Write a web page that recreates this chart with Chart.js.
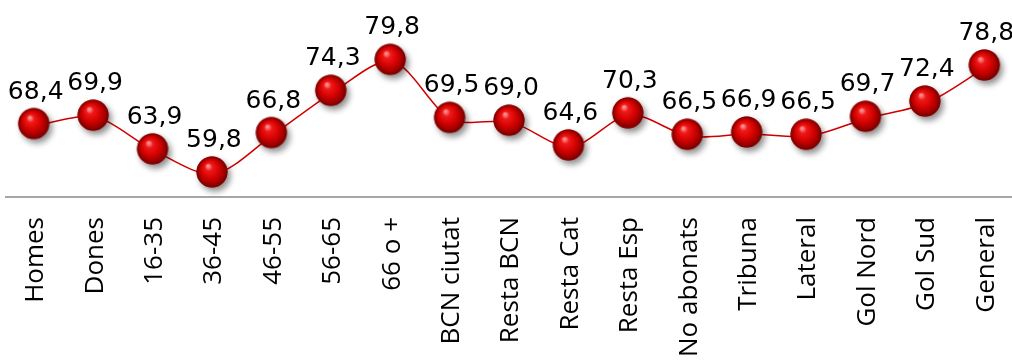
<!DOCTYPE html>
<html>
<head>
<meta charset="utf-8">
<script src="https://cdn.jsdelivr.net/npm/chart.js@4.4.1/dist/chart.umd.min.js"></script>
<style>
  html, body { margin: 0; padding: 0; background: #fff; overflow: hidden; }
  #wrap { position: relative; width: 1016px; height: 364px; }
</style>
</head>
<body>
<div id="wrap"><canvas id="chart"></canvas></div>
<script>
// categories and values
const categories = ['Homes', 'Dones', '16-35', '36-45', '46-55', '56-65', '66 o +', 'BCN ciutat',
    'Resta BCN', 'Resta Cat', 'Resta Esp', 'No abonats', 'Tribuna', 'Lateral', 'Gol Nord', 'Gol Sud', 'General'];
const values = [68.4, 69.9, 63.9, 59.8, 66.8, 74.3, 79.8, 69.5, 69.0, 64.6, 70.3, 66.5, 66.9, 66.5, 69.7, 72.4, 78.8];

// build a shaded red ball (with a soft shadow) to use as the point style
function makeBall() {
    const c = document.createElement('canvas');
    c.width = 48; c.height = 48;
    const ctx = c.getContext('2d');
    const cx = 22, cy = 22, r = 15.5;
    ctx.save();
    ctx.shadowColor = 'rgba(0,0,0,0.45)';
    ctx.shadowBlur = 6;
    ctx.shadowOffsetX = 3;
    ctx.shadowOffsetY = 4;
    ctx.beginPath();
    ctx.arc(cx, cy, r, 0, Math.PI * 2);
    ctx.fillStyle = '#b00000';
    ctx.fill();
    ctx.restore();
    const g = ctx.createRadialGradient(cx - 4, cy - 6, 1, cx, cy, r);
    g.addColorStop(0, '#ff9090');
    g.addColorStop(0.2, '#f01818');
    g.addColorStop(0.6, '#d00000');
    g.addColorStop(1, '#760000');
    ctx.beginPath();
    ctx.arc(cx, cy, r, 0, Math.PI * 2);
    ctx.fillStyle = g;
    ctx.fill();
    return c;
}

// write value above each point, with a decimal comma
const valueLabels = {
    id: 'valueLabels',
    afterDatasetsDraw(chart) {
        const ctx = chart.ctx;
        const meta = chart.getDatasetMeta(0);
        ctx.save();
        ctx.font = '25px "DejaVu Sans"';
        ctx.fillStyle = '#000';
        ctx.textAlign = 'center';
        ctx.textBaseline = 'bottom';
        meta.data.forEach(function (pt, i) {
            ctx.fillText(values[i].toFixed(1).replace('.', ','), pt.x, pt.y - 21);
        });
        ctx.restore();
    }
};

const ball = makeBall();

new Chart(document.getElementById('chart'), {
    type: 'line',
    data: {
        labels: categories,
        datasets: [{
            data: values,
            borderColor: '#d00000',
            borderWidth: 1.5,
            tension: 0.3,
            pointStyle: ball,
            pointRadius: 15,
            clip: false
        }]
    },
    options: {
        responsive: true,
        maintainAspectRatio: false,
        animation: false,
        layout: { autoPadding: false, padding: { left: 6, right: 0, top: 0, bottom: 0 } },
        plugins: { legend: { display: false }, tooltip: { enabled: false } },
        scales: {
            x: {
                offset: true,
                grid: { display: false, drawTicks: false },
                border: { display: true, color: '#a6a6a6', width: 2 },
                ticks: {
                    color: '#000',
                    font: { family: 'Open Sans', size: 26 },
                    maxRotation: 90,
                    minRotation: 90,
                    padding: 20,
                    autoSkip: false
                },
                afterFit(scale) {
                    scale.height = 167;
                    scale.paddingLeft = 0;
                    scale.paddingRight = 0;
                }
            },
            y: {
                display: false,
                min: 55.7,
                max: 90.7
            }
        }
    },
    plugins: [valueLabels]
});
</script>
</body>
</html>
